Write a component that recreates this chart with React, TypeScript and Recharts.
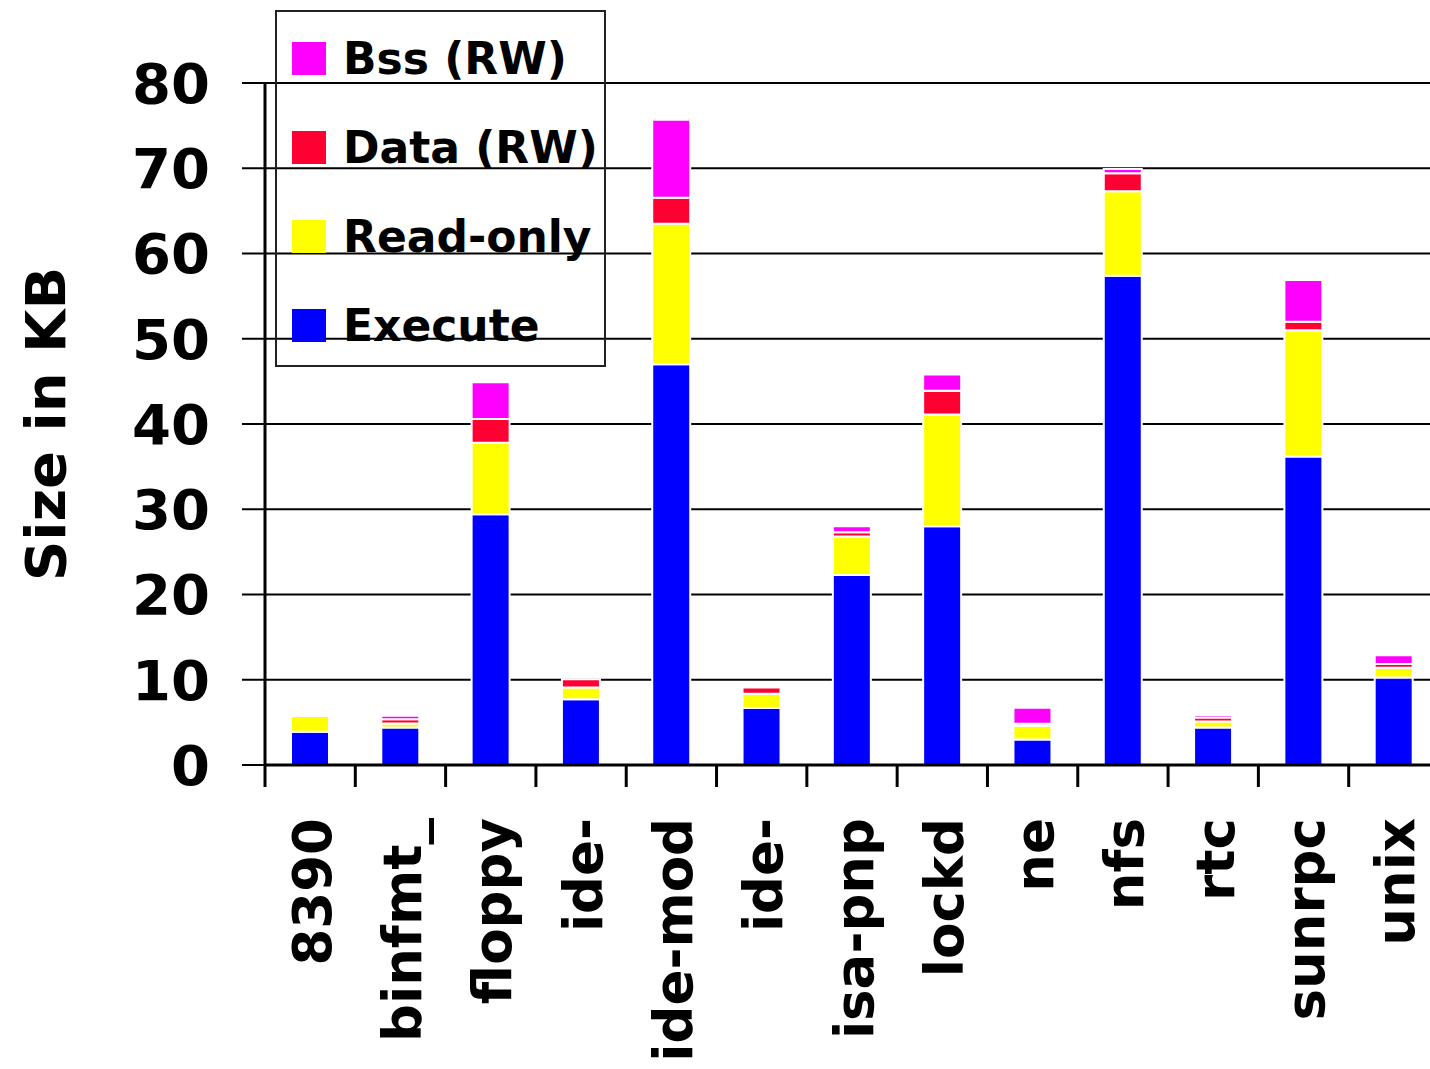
import React from 'react';
import { BarChart, Bar, XAxis, YAxis, CartesianGrid, Legend } from 'recharts';

const modules = ['8390', 'binfmt_', 'floppy', 'ide-', 'ide-mod', 'ide-', 'isa-pnp', 'lockd', 'ne', 'nfs', 'rtc', 'sunrpc', 'unix'];
const executeKB = [3.9, 4.4, 29.4, 7.7, 47.0, 6.7, 22.3, 28.0, 3.0, 57.4, 4.4, 36.2, 10.25];
const readOnlyKB = [1.85, 0.47, 8.4, 1.39, 16.5, 1.65, 4.5, 13.1, 1.6, 9.9, 0.7, 14.8, 1.16];
const dataKB = [0, 0.51, 2.8, 0.98, 3.05, 0.75, 0.5, 2.8, 0.25, 2.1, 0.47, 1.0, 0.45];
const bssKB = [0, 0.39, 4.3, 0, 9.15, 0, 0.7, 1.9, 1.87, 0.5, 0.3, 4.9, 1.02];
const yTicks = [0, 10, 20, 30, 40, 50, 60, 70, 80];

const FONT = '"DejaVu Sans", Verdana, sans-serif';

// stacking order bottom -> top
const series = [
  { key: 'execute', name: 'Execute', color: '#0000ff' },
  { key: 'readOnly', name: 'Read-only', color: '#ffff00' },
  { key: 'data', name: 'Data (RW)', color: '#ff0033' },
  { key: 'bss', name: 'Bss (RW)', color: '#ff00ff' },
];

const rows = modules.map((name, i) => ({
  name,
  execute: executeKB[i],
  readOnly: readOnlyKB[i],
  data: dataKB[i],
  bss: bssKB[i],
}));

// rotated module name plus a boundary tick on the left edge of each band
const ModuleTick = (props: any) => {
  const { x, y, payload, width, visibleTicksCount } = props;
  const half = payload?.offset || width / visibleTicksCount / 2;
  const axisY = y - 8;
  return (
    <g>
      <line x1={x - half} x2={x - half} y1={axisY} y2={axisY + 22} stroke="#000" strokeWidth={3} />
      <text
        x={x + 2}
        y={axisY + 53}
        transform={`rotate(-90, ${x + 2}, ${axisY + 53})`}
        textAnchor="end"
        dominantBaseline="central"
        fontFamily={FONT}
        fontWeight="bold"
        fontSize={53}
        fill="#000"
      >
        {payload.value}
      </text>
    </g>
  );
};

const SizeLabel = (props: any) => {
  const { viewBox } = props;
  const cx = 45;
  const cy = viewBox.y + viewBox.height / 2;
  return (
    <text
      x={cx}
      y={cy}
      transform={`rotate(-90, ${cx}, ${cy})`}
      textAnchor="middle"
      dominantBaseline="central"
      fontFamily={FONT}
      fontWeight="bold"
      fontSize={56}
      fill="#000"
    >
      Size in KB
    </text>
  );
};

const renderLegend = () => (
  <div
    style={{
      boxSizing: 'border-box',
      width: 331,
      height: 357,
      border: '2px solid #222',
      paddingTop: 2,
      fontFamily: FONT,
      fontWeight: 'bold',
      fontSize: 44,
      color: '#000',
    }}
  >
    {[...series].reverse().map((s) => (
      <div key={s.key} style={{ height: 89, display: 'flex', alignItems: 'center' }}>
        <span style={{ display: 'inline-block', width: 34, height: 33, background: s.color, marginLeft: 15, marginRight: 17 }} />
        <span style={{ whiteSpace: 'nowrap' }}>{s.name}</span>
      </div>
    ))}
  </div>
);

export default function App() {
  return (
    <div style={{ position: 'absolute', left: 0, top: 0, width: 1430, height: 1069, overflow: 'hidden', background: '#fff' }}>
      <BarChart
        width={1440}
        height={1069}
        data={rows}
        margin={{ top: 83, right: 1, bottom: 0, left: 0 }}
      >
        <CartesianGrid vertical={false} stroke="#000" strokeWidth={2} />
        <XAxis
          dataKey="name"
          interval={0}
          height={304}
          tickLine={false}
          axisLine={{ stroke: '#000', strokeWidth: 3 }}
          tick={<ModuleTick />}
        />
        <YAxis
          width={265}
          domain={[0, 80]}
          ticks={yTicks}
          interval={0}
          tickSize={23}
          tickMargin={32}
          tickLine={{ stroke: '#000', strokeWidth: 2 }}
          axisLine={{ stroke: '#000', strokeWidth: 3 }}
          tick={{ fill: '#000', fontSize: 56, fontWeight: 'bold', fontFamily: FONT }}
          label={<SizeLabel />}
        />
        <Legend
          layout="vertical"
          align="center"
          verticalAlign="middle"
          content={renderLegend}
          wrapperStyle={{ left: 275, top: 10, width: 331, height: 357 }}
        />
        {series.map((s) => (
          <Bar
            key={s.key}
            dataKey={s.key}
            name={s.name}
            stackId="size"
            fill={s.color}
            stroke="#fff"
            strokeWidth={2}
            barSize={38}
            isAnimationActive={false}
          />
        ))}
      </BarChart>
    </div>
  );
}
